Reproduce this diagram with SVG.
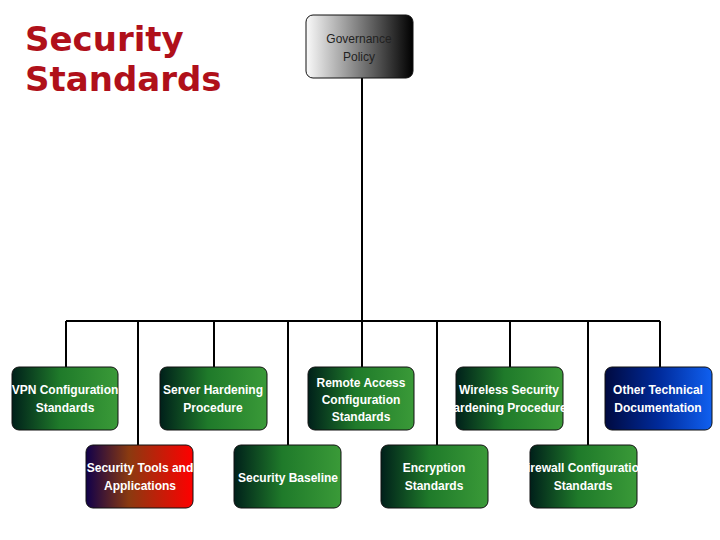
<svg xmlns="http://www.w3.org/2000/svg" width="720" height="540" viewBox="0 0 720 540">
<style>
.t{font-family:"Liberation Sans",Arial,sans-serif;font-weight:bold;font-size:12px;fill:#fff;text-anchor:middle}
.b{stroke:#111;stroke-width:1}
.c{stroke:#000;stroke-width:2;fill:none}
</style>
<defs>
<linearGradient id="g"><stop offset="0" stop-color="#00201a"/><stop offset="0.45" stop-color="#1f7a2a"/><stop offset="1" stop-color="#3a9a38"/></linearGradient>
<linearGradient id="r"><stop offset="0" stop-color="#10004a"/><stop offset="0.4" stop-color="#8a3a10"/><stop offset="1" stop-color="#ff0000"/></linearGradient>
<linearGradient id="bl"><stop offset="0" stop-color="#000a40"/><stop offset="0.5" stop-color="#002a9a"/><stop offset="1" stop-color="#1060f0"/></linearGradient>
<linearGradient id="gr"><stop offset="0" stop-color="#fafafa"/><stop offset="1" stop-color="#000"/></linearGradient>
</defs>
<text x="25" y="51" font-family="DejaVu Sans,sans-serif" font-weight="bold" font-size="34" fill="#b0101a">Security</text>
<text x="25" y="91" font-family="DejaVu Sans,sans-serif" font-weight="bold" font-size="34" fill="#b0101a">Standards</text>
<g id="connectors" class="c">
<path d="M362 78V321M66 321H660"/>
<path d="M66 321V367M214 321V367M362 321V367M510 321V367M660 321V367"/>
<path d="M138 321V445M288 321V445M437 321V445M588 321V445"/>
</g>
<g id="gov"><rect class="b" x="306" y="15" width="107" height="63" rx="7" fill="url(#gr)"/><text class="t" x="359" y="43" style="fill:#222;font-weight:normal">Governance</text><text class="t" x="359" y="61" style="fill:#222;font-weight:normal">Policy</text></g>
<g id="vpn"><rect class="b" x="12" y="367" width="106" height="63" rx="7" fill="url(#g)"/><text class="t" x="65" y="394">VPN Configuration</text><text class="t" x="65" y="412">Standards</text></g>
<g id="server"><rect class="b" x="160" y="367" width="107" height="63" rx="7" fill="url(#g)"/><text class="t" x="213" y="394">Server Hardening</text><text class="t" x="213" y="412">Procedure</text></g>
<g id="remote"><rect class="b" x="308" y="367" width="106" height="63" rx="7" fill="url(#g)"/><text class="t" x="361" y="387">Remote Access</text><text class="t" x="361" y="404">Configuration</text><text class="t" x="361" y="421">Standards</text></g>
<g id="wireless"><rect class="b" x="456" y="367" width="107" height="63" rx="7" fill="url(#g)"/><text class="t" x="509" y="394">Wireless Security</text><text class="t" x="509" y="412">Hardening Procedures</text></g>
<g id="other"><rect class="b" x="605" y="367" width="107" height="63" rx="7" fill="url(#bl)"/><text class="t" x="658" y="394">Other Technical</text><text class="t" x="658" y="412">Documentation</text></g>
<g id="tools"><rect class="b" x="86" y="445" width="107" height="63" rx="7" fill="url(#r)"/><text class="t" x="140" y="472">Security Tools and</text><text class="t" x="140" y="490">Applications</text></g>
<g id="baseline"><rect class="b" x="234" y="445" width="107" height="63" rx="7" fill="url(#g)"/><text class="t" x="288" y="482">Security Baseline</text></g>
<g id="encryption"><rect class="b" x="381" y="445" width="107" height="63" rx="7" fill="url(#g)"/><text class="t" x="434" y="472">Encryption</text><text class="t" x="434" y="490">Standards</text></g>
<g id="firewall"><rect class="b" x="530" y="445" width="107" height="63" rx="7" fill="url(#g)"/><text class="t" x="583" y="472">Firewall Configuration</text><text class="t" x="583" y="490">Standards</text></g>
</svg>
